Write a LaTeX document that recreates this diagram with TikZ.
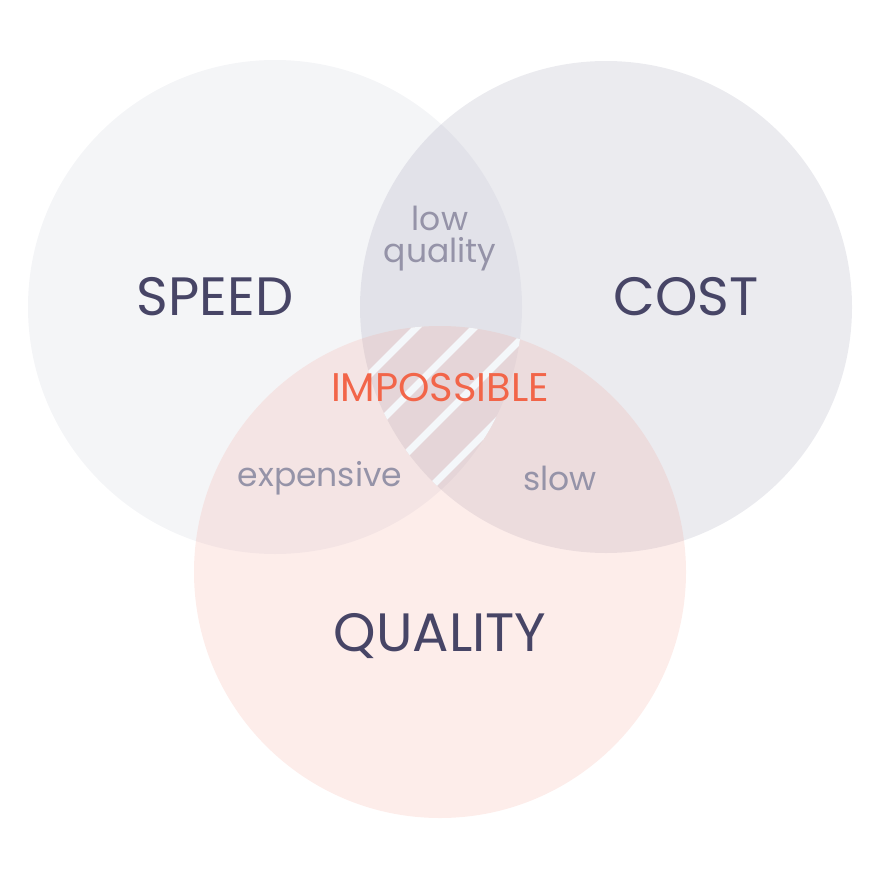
\documentclass[tikz,border=0pt]{standalone}
\usepackage{fontspec}
\setmainfont{Poppins}
\definecolor{speedfill}{HTML}{C8CCD8}
\definecolor{costfill}{HTML}{9A9AB0}
\definecolor{qualfill}{HTML}{F59A8C}
\definecolor{darktext}{HTML}{474566}
\definecolor{softtext}{HTML}{9593A8}
\definecolor{hot}{HTML}{F26549}
\definecolor{stripe}{HTML}{F4F7FA}
\tikzset{
  big/.style={text=darktext, font=\fontsize{54}{60}\selectfont},
  small/.style={text=softtext, font=\fontsize{33}{38}\selectfont, align=center},
}
\begin{document}
\begin{tikzpicture}[x=1pt,y=-1pt]
  \useasboundingbox (0,0) rectangle (880,880);
  % Circles
  \fill[speedfill, fill opacity=0.2] (275,307) circle (247);
  \fill[costfill, fill opacity=0.2] (606,307) circle (246);
  \fill[qualfill, fill opacity=0.18] (440,572) circle (246);

  % Stripes in the middle
  \begin{scope}
    \clip (275,307) circle (247);
    \clip (606,307) circle (246);
    \clip (440,572) circle (246);
    \foreach \k in {-4,...,6}
      \draw[stripe, line width=7] ({300+58*\k},560) -- ({300+58*\k+300},260);
  \end{scope}

  % Labels
  \node[big] (speed) at (215,297) {SPEED};
  \node[big] (cost) at (686,297) {COST};
  \node[big] (quality) at (440,636) {QUALITY};
  \node[small] (low) at (440,239) {low\\[-6pt]quality};
  \node[small] (expensive) at (320,478) {expensive};
  \node[small] (slow) at (560,478) {slow};
  \node[text=hot, font=\fontsize{40}{44}\selectfont] (impossible) at (440,388) {IMPOSSIBLE};
\end{tikzpicture}
\end{document}
